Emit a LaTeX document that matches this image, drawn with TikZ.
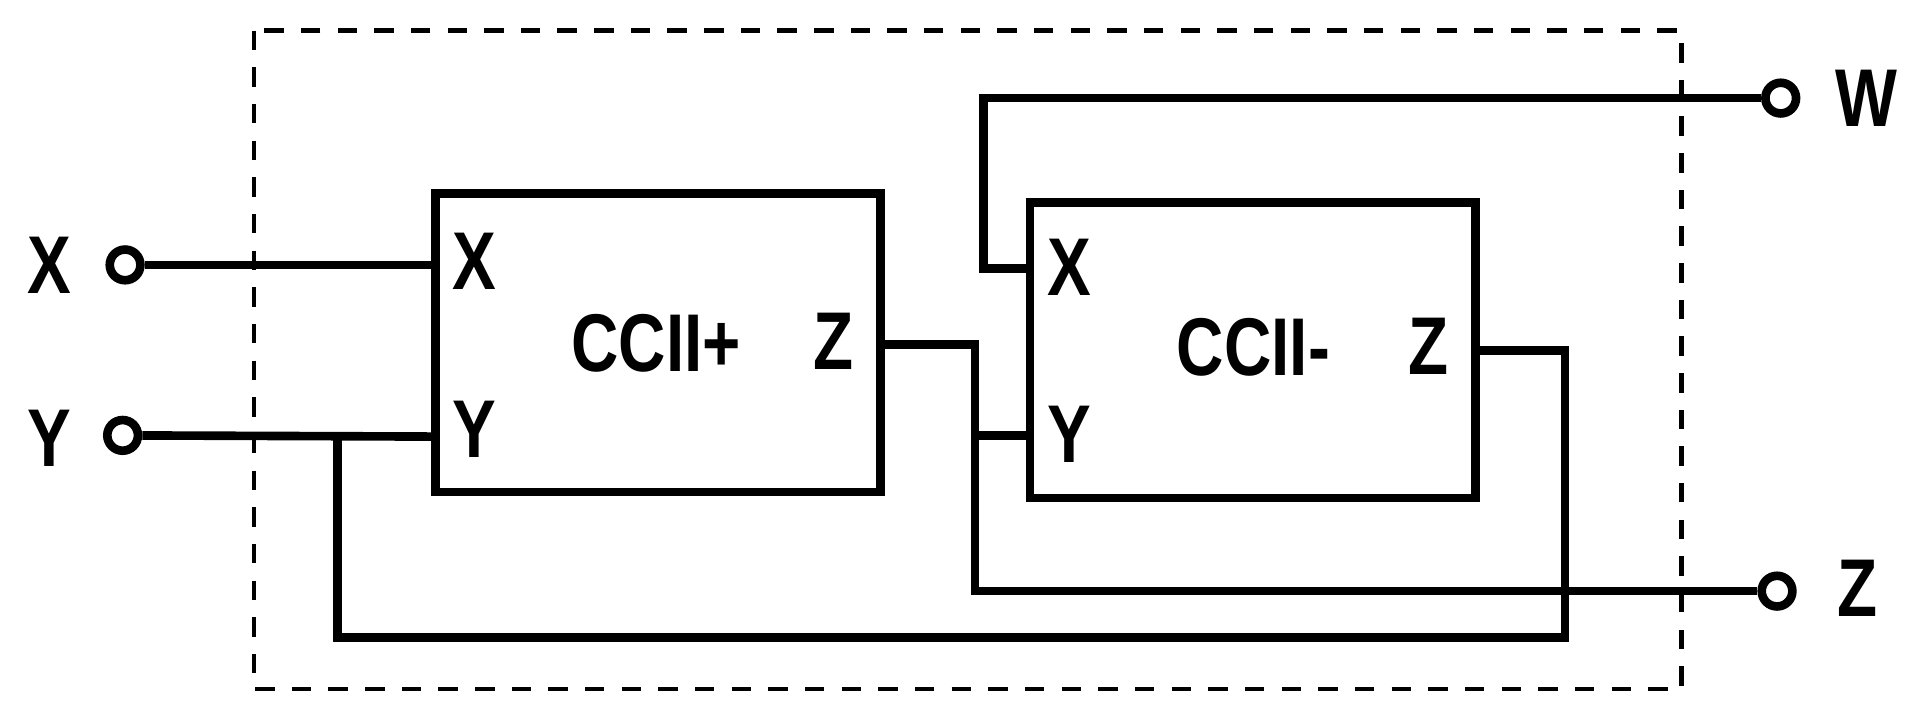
\documentclass[tikz,border=0pt]{standalone}
\usepackage{fontspec}
\setmainfont{Liberation Sans}
\begin{document}
\begin{tikzpicture}[x=0.01cm,y=-0.01cm,
  w/.style={line width=2pt},
  blk/.style={draw,line width=2pt,inner sep=0},
  lab/.style={font=\fontsize{19}{20}\selectfont\bfseries,inner sep=0,xscale=0.8},
  term/.style={circle,draw,line width=2pt,fill=white,minimum size=0.25cm,inner sep=0}]
\useasboundingbox (0,0) rectangle (1568,585);
\draw[line width=1pt,dash pattern=on 4.5pt off 4pt] (207,25) rectangle (1371,562);
\node[blk,minimum width=3.63cm,minimum height=2.43cm] (b1) at (536.5,279.5) {};
\node[blk,minimum width=3.63cm,minimum height=2.41cm] (b2) at (1021.5,285.5) {};
\node[term] (tx) at (102,216) {};
\node[term] (ty) at (100,355) {};
\node[term] (tw) at (1452,80) {};
\node[term] (tz) at (1449,482) {};
\node[lab] (lx) at (40,216) {X};
\node[lab] (ly) at (40,357) {Y};
\node[lab] (lw) at (1522,80) {W};
\node[lab] (lz) at (1515,480) {Z};
\node[lab] (x1) at (387,213) {X};
\node[lab] (y1) at (387,350) {Y};
\node[lab] (c1) at (535,280) {CCII+};
\node[lab] (z1) at (680,278) {Z};
\node[lab] (x2) at (872,218) {X};
\node[lab] (y2) at (872,354) {Y};
\node[lab] (c2) at (1022,283) {CCII-};
\node[lab] (z2) at (1165,282) {Z};
\coordinate (b1x) at (355,216);
\coordinate (b1y) at (355,356);
\coordinate (b1z) at (718,281);
\coordinate (b2x) at (840,219);
\coordinate (b2y) at (840,355);
\coordinate (b2z) at (1203,286);
\draw[w] (tx) -- (b1x);
\draw[w] (ty) -- (b1y);
\draw[w] (275,356) -- (275,520) -- (1276,520) -- (1276,286) -- (b2z);
\draw[w] (b1z) -- (795,281) -- (795,482) -- (tz);
\draw[w] (795,355) -- (b2y);
\draw[w] (tw) -- (802,80) -- (802,219) -- (b2x);
\end{tikzpicture}
\end{document}
